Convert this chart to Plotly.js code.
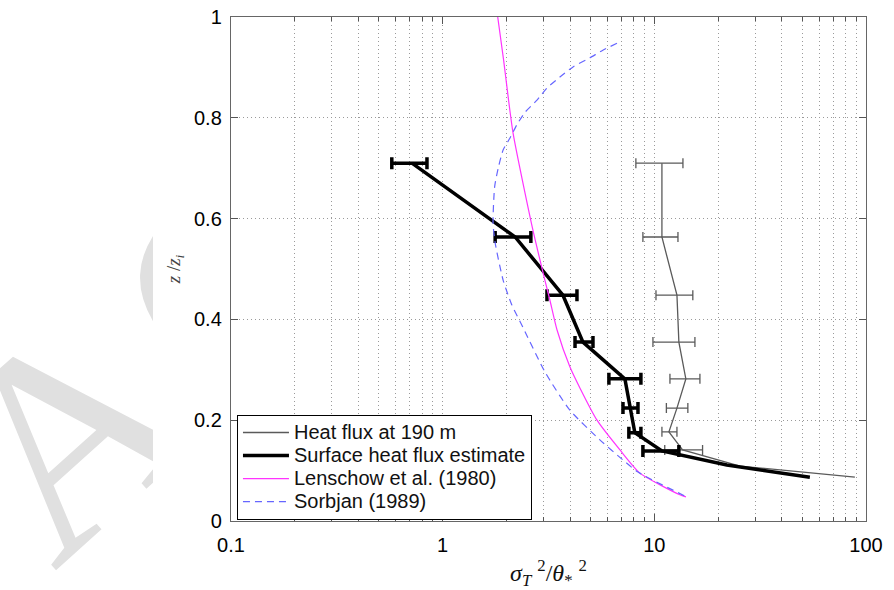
<!DOCTYPE html>
<html>
<head>
<meta charset="utf-8">
<script src="https://cdn.plot.ly/plotly-3.0.1.min.js"></script>
<style>
  html, body { margin: 0; padding: 0; background: #ffffff; }
  #wrap { position: relative; width: 894px; height: 590px; }
  #chart { position: absolute; left: 0; top: 0; width: 894px; height: 590px; }
  #wm { position: absolute; left: 0; top: 0; pointer-events: none; }
</style>
</head>
<body>
<div id="wrap">
  <div id="chart"></div>
  <svg id="wm" width="153" height="590" xmlns="http://www.w3.org/2000/svg">
    <text x="54" y="572" transform="rotate(-42 54 572)" font-family="Liberation Serif, serif" font-size="284" letter-spacing="22" fill="#e0e0e0">AC</text>
  </svg>
</div>
<script>
// Heat flux at 190 m (grey, thin)
const heatZ      = [0.710, 0.5635, 0.448, 0.355, 0.282, 0.224, 0.177, 0.141, 0.109, 0.087];
const heatVal    = [10.86, 10.86, 12.79, 13.06, 14.09, 12.79, 11.72, 13.6, 25.4, 88.6];
const heatErrP   = [2.79, 2.07, 2.41, 2.49, 2.33, 1.61, 1.07, 3.3, NaN, NaN];
const heatErrM   = [2.68, 2.03, 2.61, 3.21, 2.24, 1.39, 0.86, 2.4, NaN, NaN];

// Surface heat flux estimate (black, thick)
const surfZ      = [0.710, 0.5635, 0.448, 0.355, 0.282, 0.224, 0.175, 0.139, 0.111, 0.087];
const surfVal    = [0.716, 2.20, 3.70, 4.60, 7.26, 7.67, 8.09, 10.86, 22.0, 54.3];
const surfErrP   = [0.127, 0.41, 0.61, 0.53, 1.38, 0.70, 0.55, 2.20, NaN, NaN];
const surfErrM   = [0.141, 0.43, 0.59, 0.38, 1.16, 0.56, 0.51, 2.03, NaN, NaN];

// Lenschow et al. (1980)
const lenZ   = [1.0, 0.915, 0.885, 0.770, 0.577, 0.478, 0.4385, 0.379, 0.306, 0.264, 0.200, 0.141, 0.095, 0.052, 0.048];
const lenVal = [1.82, 1.94, 1.98, 2.15, 2.67, 3.04, 3.21, 3.47, 3.99, 4.45, 5.36, 6.88, 8.55, 13.2, 14.1];

// Sorbjan (1989)
const sorZ   = [0.948, 0.934, 0.919, 0.901, 0.881, 0.859, 0.835, 0.811, 0.786, 0.760, 0.736, 0.700, 0.663, 0.591, 0.552, 0.478, 0.429, 0.385, 0.296, 0.220, 0.161, 0.121, 0.097, 0.048];
const sorVal = [6.66, 5.71, 4.96, 4.13, 3.58, 3.11, 2.79, 2.45, 2.24, 2.08, 1.93, 1.83, 1.76, 1.73, 1.77, 1.93, 2.12, 2.39, 3.04, 3.99, 5.53, 7.11, 8.37, 14.2];

const xTickVals = [0.1, 1, 10, 100];
const xTickText = ['0.1', '1', '10', '100'];
const yTickVals = [0, 0.2, 0.4, 0.6, 0.8, 1];
const yTickText = ['0', '0.2', '0.4', '0.6', '0.8', '1'];

const legendNames = ['Heat flux at 190 m', 'Surface heat flux estimate', 'Lenschow et al. (1980)', 'Sorbjan (1989)'];
const nm = s => '<span style="font-size:20px">' + s + '</span>';

const traces = [
  {
    x: heatVal, y: heatZ, type: 'scatter', mode: 'lines',
    name: nm(legendNames[0]),
    line: {color: '#5a5a5a', width: 1.3},
    error_x: {type: 'data', symmetric: false, array: heatErrP, arrayminus: heatErrM,
              color: '#5a5a5a', thickness: 1.3, width: 5}
  },
  {
    x: surfVal, y: surfZ, type: 'scatter', mode: 'lines',
    name: nm(legendNames[1]),
    line: {color: '#000000', width: 3.5},
    error_x: {type: 'data', symmetric: false, array: surfErrP, arrayminus: surfErrM,
              color: '#000000', thickness: 3.5, width: 6}
  },
  {
    x: lenVal, y: lenZ, type: 'scatter', mode: 'lines',
    name: nm(legendNames[2]),
    line: {color: '#ff33ff', width: 1.2, shape: 'spline', smoothing: 0.6}
  },
  {
    x: sorVal, y: sorZ, type: 'scatter', mode: 'lines',
    name: nm(legendNames[3]),
    line: {color: '#6666ff', width: 1.2, dash: '7px,5px', shape: 'spline', smoothing: 0.6}
  }
];

const layout = {
  width: 894, height: 590,
  margin: {l: 231, r: 28, t: 17, b: 69},
  paper_bgcolor: 'rgba(0,0,0,0)',
  plot_bgcolor: '#ffffff',
  font: {family: 'Liberation Sans, Arial, sans-serif', color: '#000000', size: 20},
  showlegend: true,
  legend: {
    x: 0.0094, y: 0.2103, xanchor: 'left', yanchor: 'top',
    bgcolor: '#ffffff', bordercolor: '#000000', borderwidth: 1,
    font: {size: 15.4, color: '#111111', family: 'Liberation Sans, Arial, sans-serif'},
    itemwidth: 46, tracegroupgap: 0
  },
  xaxis: {
    type: 'log', range: [-1, 2],
    tickmode: 'array', tickvals: xTickVals, ticktext: xTickText,
    ticks: 'inside', ticklen: 7, tickcolor: '#555', tickwidth: 1,
    showline: true, linecolor: '#666', linewidth: 1.2, mirror: 'allticks',
    showgrid: true, gridcolor: '#9a9a9a', griddash: '1px,3px', gridwidth: 1,
    zeroline: false,
    ticklabelstandoff: 6,
    tickfont: {size: 20, color: '#000'},
    minor: {dtick: 'D1', ticks: 'inside', ticklen: 4, tickcolor: '#555',
            showgrid: true, gridcolor: '#9a9a9a', griddash: '1px,3px', gridwidth: 1},
    title: {text: '<i>σ</i><sub><i>T</i></sub> <sup>2</sup>/<i>θ</i><sub>*</sub> <sup>2</sup>',
            font: {family: 'Liberation Serif, Times New Roman, serif', size: 24, color: '#111'},
            standoff: 10}
  },
  yaxis: {
    range: [0, 1],
    tickmode: 'array', tickvals: yTickVals, ticktext: yTickText,
    ticks: 'inside', ticklen: 7, tickcolor: '#555', tickwidth: 1,
    showline: true, linecolor: '#666', linewidth: 1.2, mirror: 'allticks',
    showgrid: true, gridcolor: '#9a9a9a', griddash: '1px,3px', gridwidth: 1,
    zeroline: false,
    ticklabelstandoff: 4,
    tickfont: {size: 20, color: '#000'},
    title: {text: '<i>z</i> /<i>z</i><sub><i>i</i></sub>',
            font: {family: 'Liberation Serif, Times New Roman, serif', size: 19, color: '#444'},
            standoff: 8}
  }
};

Plotly.newPlot('chart', traces, layout, {displayModeBar: false, staticPlot: true});
</script>
</body>
</html>
